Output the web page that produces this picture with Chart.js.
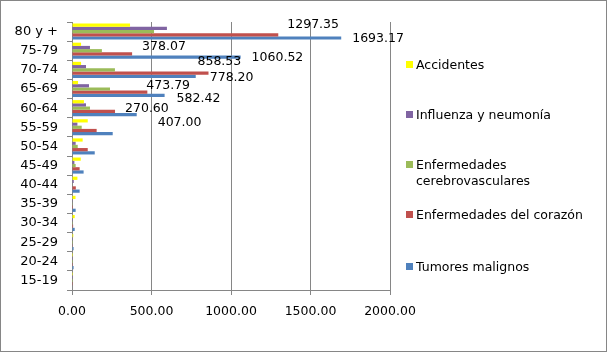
<!DOCTYPE html>
<html>
<head>
<meta charset="utf-8">
<script src="https://cdn.jsdelivr.net/npm/chart.js@4/dist/chart.umd.min.js"></script>
<style>
html,body{margin:0;padding:0;background:#fff;}
#wrap{position:relative;width:607px;height:352px;box-sizing:border-box;border:1px solid #868686;overflow:hidden;}
#c{position:absolute;left:-1px;top:-1px;}
#legend{position:absolute;left:405px;top:0;font-family:"DejaVu Sans",Verdana,sans-serif;font-size:12.5px;color:#000;}
.li{position:absolute;left:0;white-space:nowrap;}
.sw{position:absolute;left:0;width:7px;height:7px;}
.tx{position:absolute;left:10px;line-height:16px;}
</style>
</head>
<body>
<div id="wrap"><canvas id="c" width="607" height="352"></canvas><div id="legend"></div></div>
<script>
// ---- data ----
const categories = ['80 y +','75-79','70-74','65-69','60-64','55-59','50-54','45-49','40-44','35-39','30-34','25-29','20-24','15-19'];
const accidentes = [365, 57, 57, 38, 75, 99, 67, 55, 34, 22, 17, 8, 6, 6];
const influenza  = [597, 113, 88, 107, 88, 34, 23, 15, 11, 2, 1, 1, 0.5, 0.3];
const cerebro    = [516, 188, 270, 239, 113, 61, 36, 23, 3, 2, 1, 0.5, 0.3, 0.2];
const corazon    = [1297.35, 378.07, 858.53, 473.79, 270.60, 155, 99, 48, 24, 6, 7, 2, 1, 1];
const tumores    = [1693.17, 1060.52, 778.20, 582.42, 407.00, 256, 143, 73, 48, 23, 17, 10, 10, 3];
const seriesNames = ['Accidentes','Influenza y neumonía','Enfermedades cerebrovasculares','Enfermedades del corazón','Tumores malignos'];
const xTicks = [0, 500, 1000, 1500, 2000];
// labelled points: [seriesIndex, categoryIndex]
const labelled = [[3,0],[4,0],[3,1],[4,1],[3,2],[4,2],[3,3],[4,3],[3,4],[4,4]];

// ---- styles ----
const colors = ['#FFFF00','#8064A2','#9BBB59','#C0504D','#4F81BD'];
const labelOffsets = [[9,-10],[11,1],[10,-7],[11,1],[-11,-11],[14,1],[-1,-6],[12,3],[10,-3],[21,8]];
const FONT = '"DejaVu Sans", Verdana, sans-serif';
const values = [accidentes, influenza, cerebro, corazon, tumores];

const labelPlugin = {
  id: 'vlabels',
  afterDatasetsDraw(chart) {
    const ctx = chart.ctx;
    ctx.save();
    ctx.font = '12.5px ' + FONT;
    ctx.fillStyle = '#000';
    ctx.textAlign = 'left';
    ctx.textBaseline = 'middle';
    labelled.forEach(([s, c], i) => {
      const el = chart.getDatasetMeta(s).data[c];
      const v = values[s][c];
      ctx.fillText(v.toFixed(2), el.x + labelOffsets[i][0], el.y + labelOffsets[i][1]);
    });
    ctx.restore();
  }
};

Chart.defaults.font.family = FONT;
Chart.defaults.font.size = 12.5;
Chart.defaults.color = '#000';

new Chart(document.getElementById('c'), {
  type: 'bar',
  data: {
    labels: categories,
    datasets: seriesNames.map((n, i) => ({
      label: n, data: values[i], backgroundColor: colors[i], borderWidth: 0,
      categoryPercentage: 0.84, barPercentage: 1.0
    }))
  },
  options: {
    indexAxis: 'y',
    responsive: false,
    animation: false,
    layout: { padding: { top: 22, right: 217, left: 0, bottom: 0 } },
    plugins: { legend: { display: false }, tooltip: { enabled: false } },
    scales: {
      x: {
        min: 0, max: 2000,
        afterBuildTicks(s) { s.ticks = xTicks.map(v => ({ value: v })); },
        afterFit(s) { s.height = 62; },
        ticks: { padding: 9, callback: v => Number(v).toFixed(2), font: { size: 12.5 } },
        grid: { color: '#868686', lineWidth: 1, tickLength: 5, drawTicks: true },
        border: { color: '#868686', width: 1 }
      },
      y: {
        afterFit(s) { s.width = 72; },
        ticks: { padding: 9, font: { size: 13 } },
        grid: { drawOnChartArea: false, color: '#868686', tickLength: 5, offset: true },
        border: { color: '#868686', width: 1 }
      }
    }
  },
  plugins: [labelPlugin]
});

// HTML legend
const legendPos = [64, 114, 172, 214, 266];
const lg = document.getElementById('legend');
seriesNames.forEach((n, i) => {
  const d = document.createElement('div');
  d.className = 'li';
  const two = n === 'Enfermedades cerebrovasculares';
  const top = legendPos[i] - (two ? 16 : 8);
  d.style.top = top + 'px';
  const sw = document.createElement('div');
  sw.className = 'sw'; sw.style.background = colors[i];
  sw.style.top = '4px';
  const tx = document.createElement('div');
  tx.className = 'tx';
  tx.innerHTML = two ? 'Enfermedades<br>cerebrovasculares' : n;
  d.appendChild(sw); d.appendChild(tx);
  lg.appendChild(d);
});
</script>
</body>
</html>
